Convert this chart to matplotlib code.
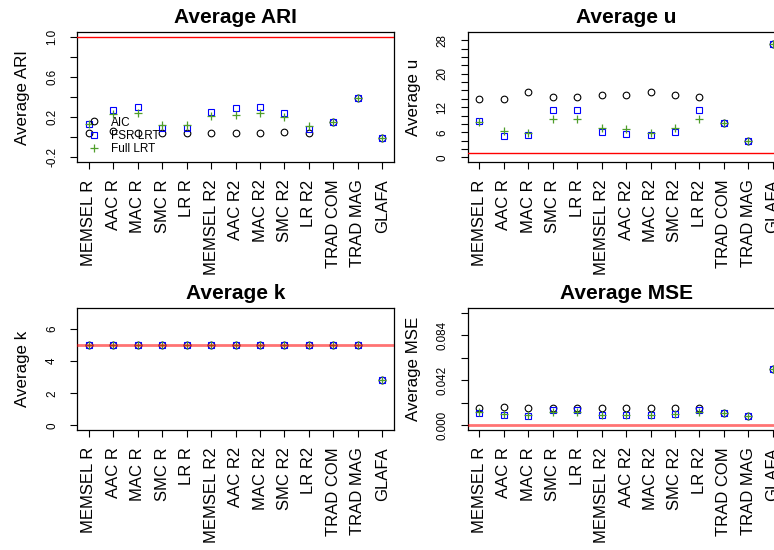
import matplotlib
matplotlib.use("Agg")
import matplotlib.pyplot as plt
import numpy as np

plt.rcParams['font.family'] = ['Liberation Sans', 'DejaVu Sans']

methods = ["MEMSEL R", "AAC R", "MAC R", "SMC R", "LR R", "MEMSEL R2", "AAC R2",
           "MAC R2", "SMC R2", "LR R2", "TRAD COM", "TRAD MAG", "GLAFA"]
series_names = ["AIC", "FSR LRT", "Full LRT"]

ari_aic = [0.047, 0.062, 0.047, 0.047, 0.047, 0.047, 0.047, 0.045, 0.05, 0.045, 0.156, 0.39, -0.01]
ari_fsr = [0.136, 0.27, 0.308, 0.09, 0.09, 0.25, 0.295, 0.305, 0.245, 0.08, 0.156, 0.39, -0.01]
ari_full = [0.136, 0.235, 0.241, 0.12, 0.12, 0.21, 0.225, 0.245, 0.205, 0.113, 0.156, 0.39, -0.01]

u_aic = [14.07, 13.9, 15.6, 14.5, 14.5, 15.0, 15.0, 15.6, 14.9, 14.5, 8.15, 3.85, 27.1]
u_fsr = [8.8, 5.1, 5.3, 11.3, 11.3, 6.0, 5.5, 5.3, 6.15, 11.3, 8.15, 3.85, 27.1]
u_full = [8.55, 6.3, 5.75, 9.2, 9.2, 6.96, 6.7, 5.9, 7.1, 9.2, 8.15, 3.85, 27.1]

k_aic = [5, 5, 5, 5, 5, 5, 5, 5, 5, 5, 5, 5, 2.8]
k_fsr = [5, 5, 5, 5, 5, 5, 5, 5, 5, 5, 5, 5, 2.8]
k_full = [5, 5, 5, 5, 5, 5, 5, 5, 5, 5, 5, 5, 2.8]

mse_aic = [0.0159, 0.0168, 0.0162, 0.0162, 0.0162, 0.0159, 0.0162, 0.0162, 0.0159, 0.0165, 0.0112, 0.0084, 0.0527]
mse_fsr = [0.0116, 0.0097, 0.0091, 0.014, 0.014, 0.01, 0.01, 0.0094, 0.0103, 0.014, 0.0112, 0.0084, 0.0527]
mse_full = [0.0122, 0.0103, 0.0094, 0.0128, 0.0128, 0.01, 0.01, 0.0094, 0.0103, 0.0128, 0.0112, 0.0084, 0.0527]

true_ari, true_u, true_k, true_mse = 1.0, 1.0, 5.0, 0.0

W, H = 774, 550
fig = plt.figure(figsize=(W / 100, H / 100), dpi=100)


def px_axes(x0, x1, y0, y1):
    return fig.add_axes([x0 / W, 1 - y1 / H, (x1 - x0) / W, (y1 - y0) / H])


GREEN = "#4F9E2A"

panels = [
    dict(rect=(77.2, 394.0, 32.3, 162.3), title="Average ARI", ylab="Average ARI",
         data=(ari_aic, ari_fsr, ari_full), ylim=(-0.248, 1.048),
         ticks=np.round(np.arange(-0.2, 1.01, 0.2), 3),
         labels={-0.2: "-0.2", 0.2: "0.2", 0.6: "0.6", 1.0: "1.0"},
         true=true_ari, thick=False, legend=True),
    dict(rect=(467.7, 784.5, 32.3, 162.3), title="Average u", ylab="Average u",
         data=(u_aic, u_fsr, u_full), ylim=(-1.15, 29.9),
         ticks=np.arange(0, 29, 2),
         labels={0: "0", 6: "6", 12: "12", 20: "20", 28: "28"},
         true=true_u, thick=False, legend=False),
    dict(rect=(77.2, 394.0, 308.3, 430.0), title="Average k", ylab="Average k",
         data=(k_aic, k_fsr, k_full), ylim=(-0.28, 7.28),
         ticks=np.arange(0, 7, 2),
         labels={0: "0", 2: "2", 4: "4", 6: "6"},
         true=true_k, thick=True, legend=False),
    dict(rect=(467.7, 784.5, 308.3, 430.0), title="Average MSE", ylab="Average MSE",
         data=(mse_aic, mse_fsr, mse_full), ylim=(-0.0042, 0.1092),
         ticks=np.round(np.linspace(0, 0.105, 6), 4),
         labels={0.0: "0.000", 0.042: "0.042", 0.084: "0.084"},
         true=true_mse, thick=True, legend=False),
]

x = np.arange(1, len(methods) + 1)

for p in panels:
    ax = px_axes(*p["rect"])
    aic, fsr, full = p["data"]
    h1, = ax.plot(x, aic, linestyle="none", marker="o", ms=4.8, mfc="none",
                  mec="black", mew=0.8, clip_on=False, label=series_names[0])
    h2, = ax.plot(x, fsr, linestyle="none", marker="s", ms=4.7, mfc="none",
                  mec="#0000FF", mew=0.8, clip_on=False, label=series_names[1])
    h3, = ax.plot(x, full, linestyle="none", marker="+", ms=6.2,
                  mec=GREEN, mew=0.9, clip_on=False, label=series_names[2])
    if p["thick"]:
        ax.axhline(p["true"], color=(1, 0, 0, 0.55), lw=2.0, zorder=5)
    else:
        ax.axhline(p["true"], color="#FF0000", lw=1.0, zorder=5)
    ax.set_xlim(0.52, 13.48)
    ax.set_ylim(*p["ylim"])
    ax.set_xticks(x)
    ax.set_xticklabels(methods, rotation=90, fontsize=12.0)
    ticks = p["ticks"]
    ax.set_yticks(ticks)
    labs = []
    for t in ticks:
        lab = ""
        for k, v in p["labels"].items():
            if abs(t - k) < 1e-6:
                lab = v
        labs.append(lab)
    ax.set_yticklabels(labs, rotation=90, va="center", fontsize=8.4)
    ax.tick_params(axis="x", length=5.3, width=0.8, pad=7.0)
    ax.tick_params(axis="y", length=5.3, width=0.8, pad=8.5)
    for s in ax.spines.values():
        s.set_linewidth(0.9)
    ax.set_title(p["title"], fontsize=15, fontweight="bold", pad=6.8)
    ax.set_ylabel(p["ylab"], fontsize=12.2)
    ax.yaxis.set_label_coords(-0.148, 0.5)
    if p["legend"]:
        ax.legend(handles=[h1, h2, h3], loc="upper left",
                  bbox_to_anchor=(87.6 / W, 1 - 116.5 / H),
                  bbox_transform=fig.transFigure, frameon=False,
                  fontsize=8.5, borderpad=0, borderaxespad=0,
                  handlelength=1.0, handletextpad=1.0, labelspacing=0.12)

fig.savefig("out.png", dpi=100)
